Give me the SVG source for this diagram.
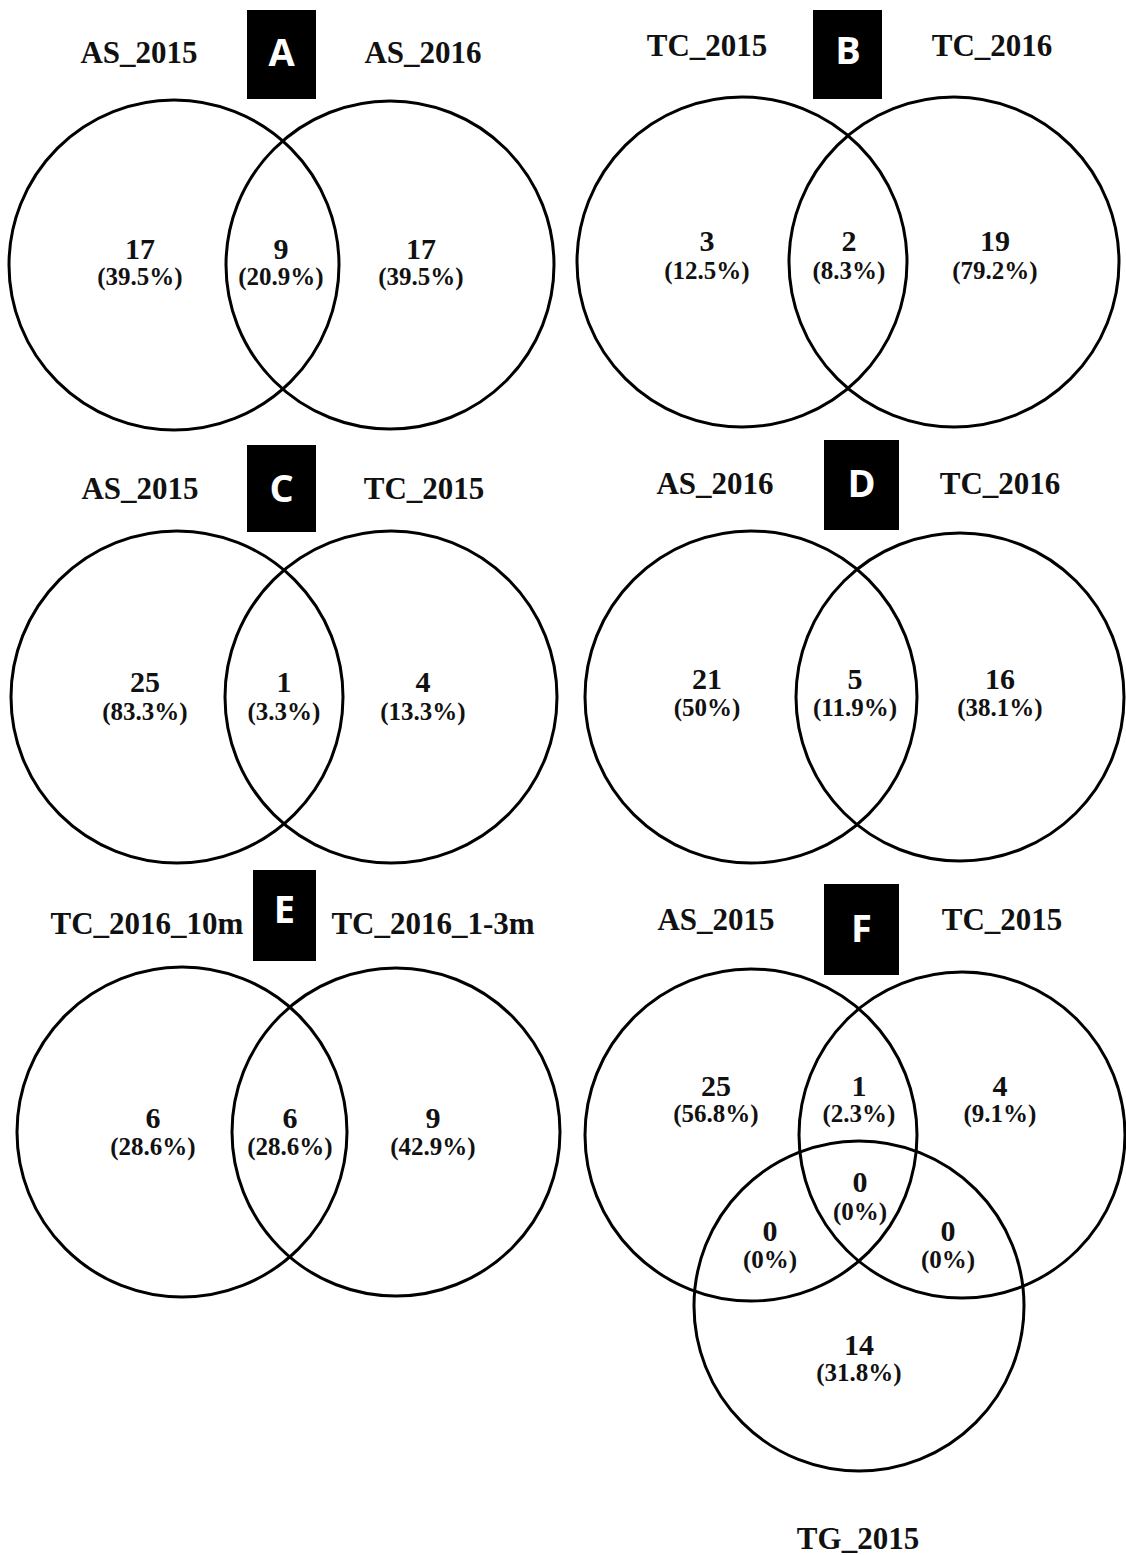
<svg xmlns="http://www.w3.org/2000/svg" width="1126" height="1555" viewBox="0 0 1126 1555">
<style>
.c{fill:none;stroke:#000;stroke-width:3}
.lb{font-family:"Liberation Serif","Times New Roman",serif;font-weight:bold;font-size:31px;text-anchor:middle;fill:#111}
.n{font-family:"Liberation Serif","Times New Roman",serif;font-weight:bold;font-size:30px;text-anchor:middle;fill:#111}
.p{font-family:"Liberation Serif","Times New Roman",serif;font-weight:bold;font-size:25px;text-anchor:middle;fill:#111}
.bx{fill:#000}
.bl{font-family:"Open Sans","DejaVu Sans",sans-serif;font-weight:bold;font-size:38px;text-anchor:middle;fill:#fff}
</style>
<rect width="1126" height="1555" fill="#fff"/>
<g id="panelA">
<rect class="bx" x="247" y="10" width="69" height="89"/><text class="bl" x="281.5" y="66">A</text>
<text class="lb" x="139" y="63">AS_2015</text><text class="lb" x="423" y="63">AS_2016</text>
<circle class="c" cx="174" cy="265" r="165"/><circle class="c" cx="390" cy="265" r="164"/>
<text class="n" x="140" y="259">17</text><text class="p" x="140" y="285">(39.5%)</text>
<text class="n" x="281" y="259">9</text><text class="p" x="281" y="285">(20.9%)</text>
<text class="n" x="421" y="259">17</text><text class="p" x="421" y="285">(39.5%)</text>
</g>
<g id="panelB">
<rect class="bx" x="813" y="10" width="69" height="89"/><text class="bl" x="848" y="64">B</text>
<text class="lb" x="707" y="56">TC_2015</text><text class="lb" x="992" y="56">TC_2016</text>
<circle class="c" cx="742" cy="262" r="165"/><circle class="c" cx="954" cy="262" r="165"/>
<text class="n" x="707" y="251">3</text><text class="p" x="707" y="279">(12.5%)</text>
<text class="n" x="849" y="251">2</text><text class="p" x="849" y="279">(8.3%)</text>
<text class="n" x="995" y="251">19</text><text class="p" x="995" y="279">(79.2%)</text>
</g>
<g id="panelC">
<rect class="bx" x="247" y="445" width="69" height="87"/><text class="bl" x="281.5" y="502">C</text>
<text class="lb" x="140" y="499">AS_2015</text><text class="lb" x="424" y="499">TC_2015</text>
<circle class="c" cx="177" cy="697" r="166"/><circle class="c" cx="391" cy="697" r="166"/>
<text class="n" x="145" y="692">25</text><text class="p" x="145" y="720">(83.3%)</text>
<text class="n" x="284" y="692">1</text><text class="p" x="284" y="720">(3.3%)</text>
<text class="n" x="423" y="692">4</text><text class="p" x="423" y="720">(13.3%)</text>
</g>
<g id="panelD">
<rect class="bx" x="824" y="440" width="75" height="90"/><text class="bl" x="861.5" y="497">D</text>
<text class="lb" x="715" y="494">AS_2016</text><text class="lb" x="1000" y="494">TC_2016</text>
<circle class="c" cx="751" cy="697" r="166"/><circle class="c" cx="960" cy="697" r="164"/>
<text class="n" x="707" y="689">21</text><text class="p" x="707" y="716">(50%)</text>
<text class="n" x="855" y="689">5</text><text class="p" x="855" y="716">(11.9%)</text>
<text class="n" x="1000" y="689">16</text><text class="p" x="1000" y="716">(38.1%)</text>
</g>
<g id="panelE">
<rect class="bx" x="253" y="870" width="63" height="91"/><text class="bl" x="284.5" y="923">E</text>
<text class="lb" x="147" y="934">TC_2016_10m</text><text class="lb" x="433" y="934">TC_2016_1-3m</text>
<circle class="c" cx="182" cy="1132" r="165"/><circle class="c" cx="396" cy="1132" r="164"/>
<text class="n" x="153" y="1128">6</text><text class="p" x="153" y="1155">(28.6%)</text>
<text class="n" x="290" y="1128">6</text><text class="p" x="290" y="1155">(28.6%)</text>
<text class="n" x="433" y="1128">9</text><text class="p" x="433" y="1155">(42.9%)</text>
</g>
<g id="panelF">
<rect class="bx" x="824" y="884" width="75" height="91"/><text class="bl" x="861.5" y="942">F</text>
<text class="lb" x="716" y="930">AS_2015</text><text class="lb" x="1002" y="930">TC_2015</text>
<text class="lb" x="858" y="1549">TG_2015</text>
<circle class="c" cx="751" cy="1135" r="166"/><circle class="c" cx="962" cy="1135" r="163"/><circle class="c" cx="859" cy="1306" r="165"/>
<text class="n" x="716" y="1096">25</text><text class="p" x="716" y="1122">(56.8%)</text>
<text class="n" x="859" y="1096">1</text><text class="p" x="859" y="1122">(2.3%)</text>
<text class="n" x="1000" y="1096">4</text><text class="p" x="1000" y="1122">(9.1%)</text>
<text class="n" x="860" y="1192">0</text><text class="p" x="860" y="1220">(0%)</text>
<text class="n" x="770" y="1241">0</text><text class="p" x="770" y="1268">(0%)</text>
<text class="n" x="948" y="1241">0</text><text class="p" x="948" y="1268">(0%)</text>
<text class="n" x="859" y="1355">14</text><text class="p" x="859" y="1381">(31.8%)</text>
</g>
</svg>
